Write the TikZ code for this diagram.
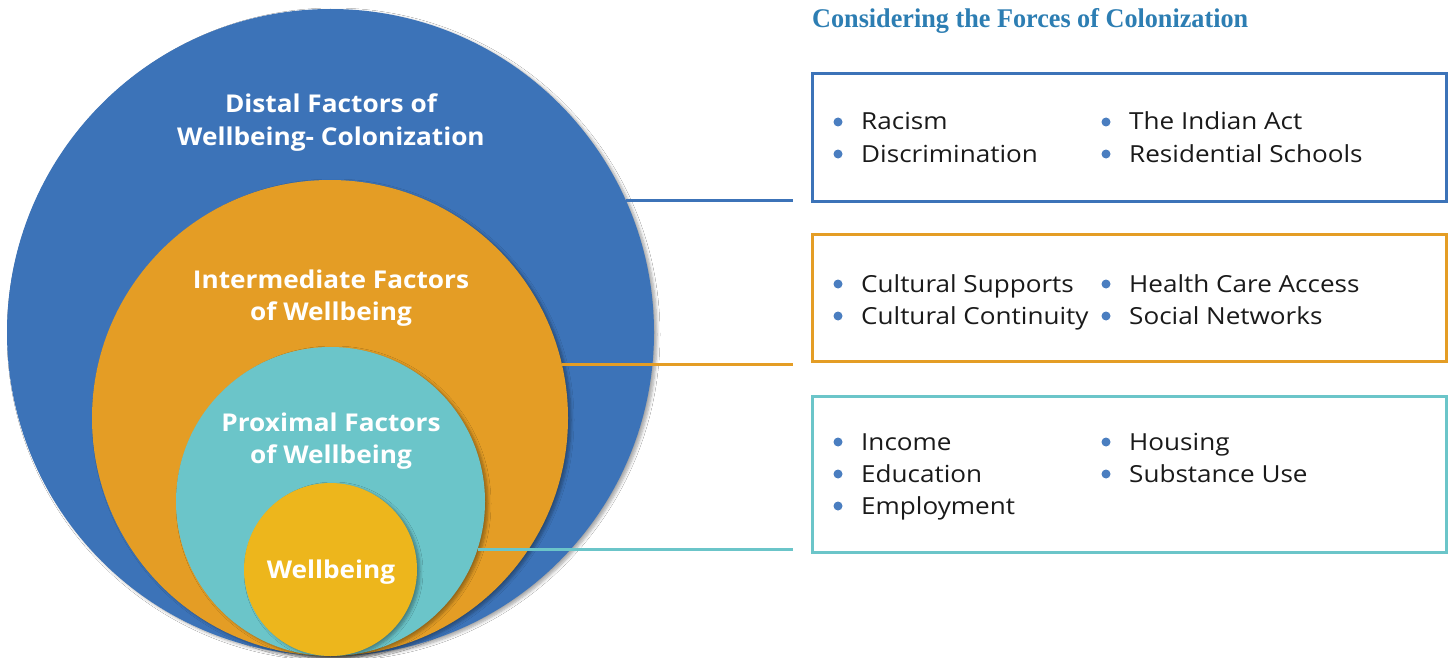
\documentclass[tikz,border=0pt]{standalone}
\usepackage{fontspec}
\setmainfont{Open Sans}
\newfontfamily\titlefont{Liberation Serif}
\newfontfamily\labelfont[FakeStretch=1.07]{Open Sans}
\newfontfamily\itemfont[FakeStretch=1.11]{Open Sans}
\usetikzlibrary{shadows.blur}
\definecolor{cblue}{HTML}{3C73B8}
\definecolor{corange}{HTML}{E49D25}
\definecolor{cteal}{HTML}{6BC5C9}
\definecolor{cyellow}{HTML}{EDB61C}
\definecolor{ctitle}{HTML}{2D7EB3}
\definecolor{cdot}{HTML}{4A7EC0}
\definecolor{ctext}{HTML}{1A1A1A}
\begin{document}
\begin{tikzpicture}[x=1pt,y=-1pt,
  ring/.style={circle, inner sep=0pt, draw=none, blur shadow={shadow xshift=3pt, shadow yshift=-2pt, shadow blur steps=6, shadow blur radius=3pt, shadow opacity=35}},
  clabel/.style={text=white, font=\labelfont\fontsize{24.5}{32}\selectfont\bfseries, anchor=base, inner sep=0pt},
  factbox/.style={draw, line width=3pt, inner sep=0pt, minimum width=634pt},
  link/.style={line width=3pt},
  item/.style={anchor=base west, inner sep=0pt, text=ctext, font=\itemfont\fontsize{23.5}{28}\selectfont},
  dot/.style={circle, fill=cdot, inner sep=0pt, minimum size=9pt}
]
\useasboundingbox (0,0) rectangle (1450,658);
\fill[white] (0,0) rectangle (1450,658);

% circles
\node[ring, fill=cblue, minimum size=647pt] (bc) at (330.5,332.5) {};
\node[ring, fill=corange, minimum size=476pt] (oc) at (330,418) {};
\node[ring, fill=cteal, minimum size=309pt] (tc) at (330.5,501.5) {};
\node[ring, fill=cyellow, minimum size=173pt] (yc) at (330.5,569.5) {};

% circle labels
\node[clabel] (l1a) at (331,113) {Distal Factors of};
\node[clabel] (l1b) at (331,145) {Wellbeing- Colonization};
\node[clabel] (l2a) at (331,288) {Intermediate Factors};
\node[clabel] (l2b) at (331,320) {of Wellbeing};
\node[clabel] (l3a) at (331,431) {Proximal Factors};
\node[clabel] (l3b) at (331,463) {of Wellbeing};
\node[clabel] (l4) at (331,578) {Wellbeing};

% title
\node[anchor=base west, inner sep=0pt, text=ctitle] (title) at (812,28)
  {\scalebox{0.97}[1]{\titlefont\fontsize{27}{30}\selectfont\bfseries Considering the Forces of Colonization}};

% boxes
\node[factbox, draw=cblue, minimum height=127pt] (b1) at (1129,137.5) {};
\node[factbox, draw=corange, minimum height=127pt] (b2) at (1129,297.5) {};
\node[factbox, draw=cteal, minimum height=156pt] (b3) at (1129,474) {};

% connectors
\coordinate (lend) at (793,0);
\draw[link, cblue] (bc.24.4) -- (bc.24.4 -| lend);
\draw[link, corange] (oc.13.7) -- (oc.13.7 -| lend);
\draw[link, cteal] (tc.-18.7) -- (tc.-18.7 -| lend);

% items box 1
\node[dot] (d11) at (838,122) {}; \node[item] (t11) at (861,130) {Racism};
\node[dot] (d12) at (838,154) {}; \node[item] (t12) at (861,162) {Discrimination};
\node[dot] (d13) at (1106,122) {}; \node[item] (t13) at (1129,130) {The Indian Act};
\node[dot] (d14) at (1106,154) {}; \node[item] (t14) at (1129,162) {Residential Schools};
% items box 2
\node[dot] (d21) at (838,284) {}; \node[item] (t21) at (861,292) {Cultural Supports};
\node[dot] (d22) at (838,316) {}; \node[item] (t22) at (861,324) {Cultural Continuity};
\node[dot] (d23) at (1106,284) {}; \node[item] (t23) at (1129,292) {Health Care Access};
\node[dot] (d24) at (1106,316) {}; \node[item] (t24) at (1129,324) {Social Networks};
% items box 3
\node[dot] (d31) at (838,442) {}; \node[item] (t31) at (861,450) {Income};
\node[dot] (d32) at (838,474) {}; \node[item] (t32) at (861,482) {Education};
\node[dot] (d33) at (838,506) {}; \node[item] (t33) at (861,514) {Employment};
\node[dot] (d34) at (1106,442) {}; \node[item] (t34) at (1129,450) {Housing};
\node[dot] (d35) at (1106,474) {}; \node[item] (t35) at (1129,482) {Substance Use};
\end{tikzpicture}
\end{document}
